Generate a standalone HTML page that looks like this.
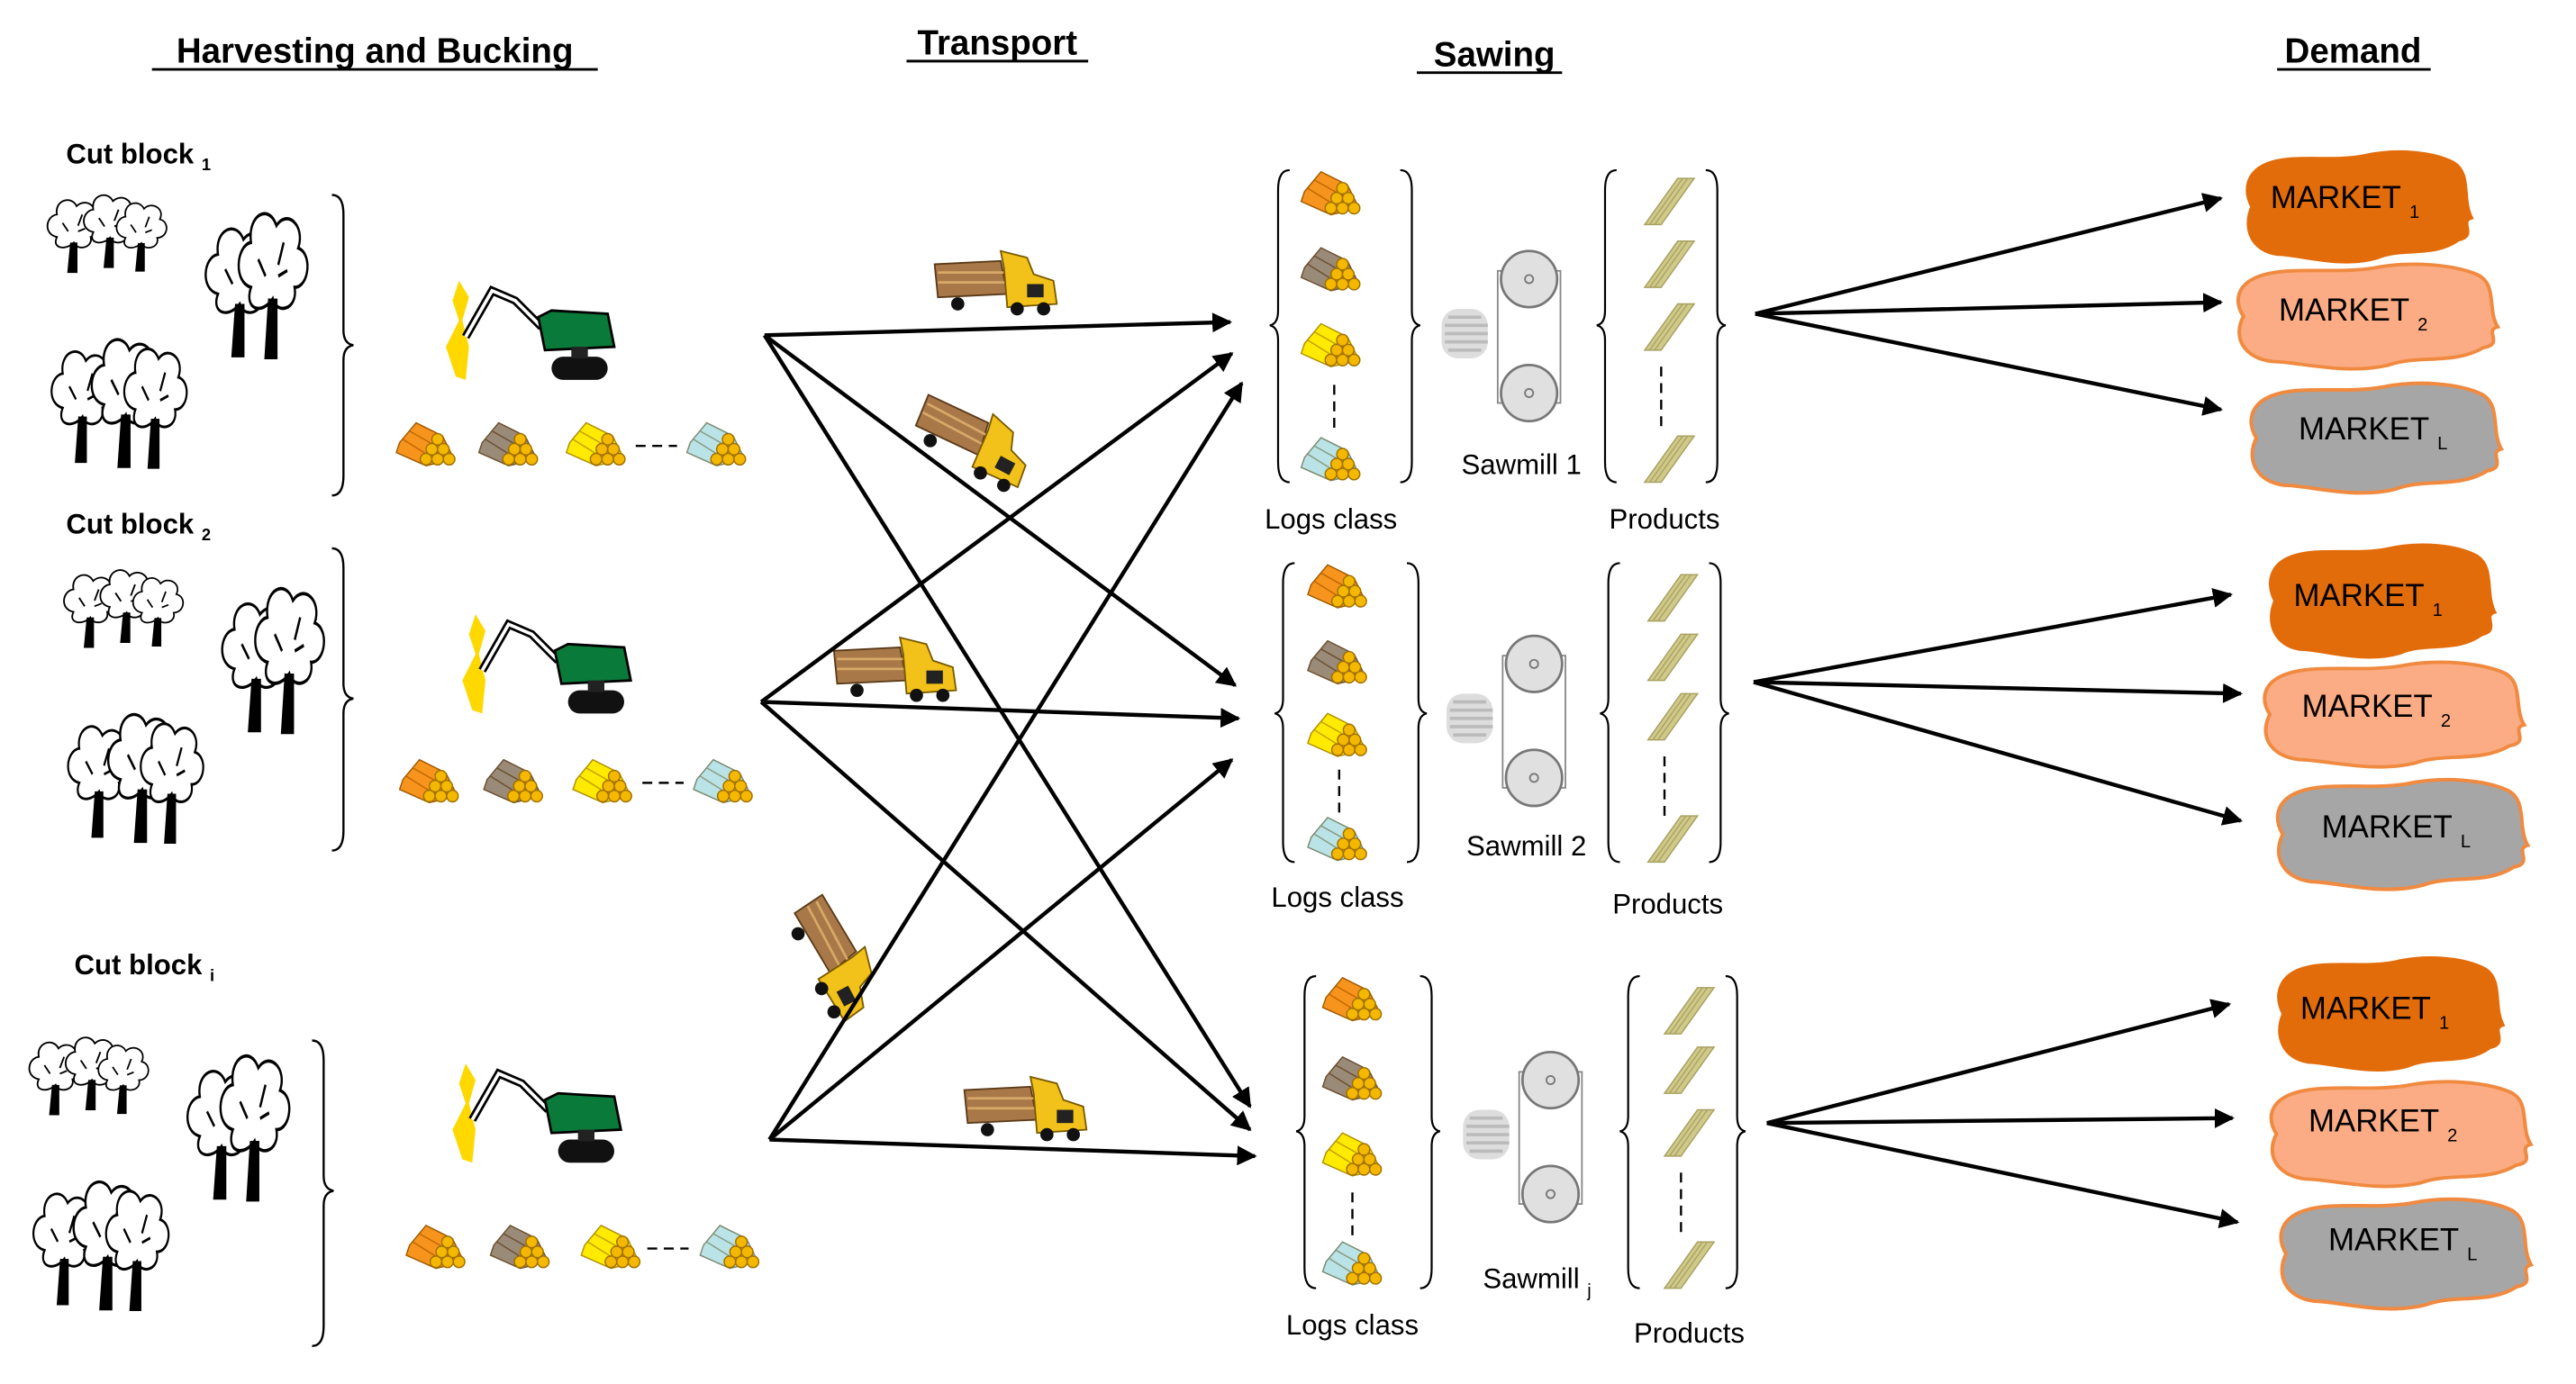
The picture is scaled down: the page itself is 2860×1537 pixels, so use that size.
<!DOCTYPE html>
<html><head><meta charset="utf-8">
<style>
html,body{margin:0;padding:0;background:#fff;}
svg{display:block;}
text{font-family:"Liberation Sans",Arial,sans-serif;}
</style></head>
<body>
<svg width="2860" height="1537" viewBox="0 0 1560 838" preserveAspectRatio="none" xmlns="http://www.w3.org/2000/svg">
<defs>
<marker id="ah" viewBox="0 0 10 10" refX="9" refY="5" markerWidth="5" markerHeight="5" orient="auto" markerUnits="strokeWidth">
<path d="M0,0 L10,5 L0,10 z" fill="#000"/></marker>

<g id="pileBase">
<circle cx="20" cy="22" r="3.5" fill="#f5b800" stroke="#a07000" stroke-width="0.8"/>
<circle cx="27" cy="22" r="3.5" fill="#f5b800" stroke="#a07000" stroke-width="0.8"/>
<circle cx="34" cy="22" r="3.5" fill="#f5b800" stroke="#a07000" stroke-width="0.8"/>
<circle cx="23.5" cy="16" r="3.5" fill="#f5b800" stroke="#a07000" stroke-width="0.8"/>
<circle cx="30.5" cy="16" r="3.5" fill="#f5b800" stroke="#a07000" stroke-width="0.8"/>
<circle cx="27" cy="10" r="3.5" fill="#f5b800" stroke="#a07000" stroke-width="0.8"/>
</g>
<g id="logO"><path d="M4,12 L14,0 L30,8 L37,22 L20,26 L2,18 z" fill="#f7941d" stroke="#a05a00" stroke-width="0.8"/><path d="M6,10 L22,20 M10,5 L26,14" stroke="#c06800" stroke-width="0.8"/><use href="#pileBase"/></g>
<g id="logB"><path d="M4,12 L14,0 L30,8 L37,22 L20,26 L2,18 z" fill="#9a8a78" stroke="#6b5030" stroke-width="0.8"/><path d="M6,10 L22,20 M10,5 L26,14" stroke="#6b5030" stroke-width="0.8"/><use href="#pileBase"/></g>
<g id="logY"><path d="M4,12 L14,0 L30,8 L37,22 L20,26 L2,18 z" fill="#ffea00" stroke="#b09000" stroke-width="0.8"/><path d="M6,10 L22,20 M10,5 L26,14" stroke="#c0a000" stroke-width="0.8"/><use href="#pileBase"/></g>
<g id="logC"><path d="M4,12 L14,0 L30,8 L37,22 L20,26 L2,18 z" fill="#b9e3e6" stroke="#7a8a70" stroke-width="0.8"/><path d="M6,10 L22,20 M10,5 L26,14" stroke="#8a9a80" stroke-width="0.8"/><use href="#pileBase"/></g>

<g id="prod"><path d="M0,28 L20,0 L30,0 L10,28 z" fill="#cfc98a" stroke="#a8a060" stroke-width="0.8"/><path d="M3,28 L23,0 M6,28 L26,0" stroke="#a8a060" stroke-width="0.7"/></g>

<g id="mill">
<rect x="-2" y="35" width="28" height="30" rx="10" fill="#ddd"/>
<path d="M2,40h20M0,45h26M0,50h26M0,55h26M2,60h20" stroke="#bbb" stroke-width="2"/>
<rect x="32" y="12" width="38" height="80" fill="#fff" stroke="#888" stroke-width="1"/>
<circle cx="51" cy="17" r="17" fill="#e0e0e0" stroke="#777" stroke-width="1.5"/><circle cx="51" cy="17" r="2.5" fill="none" stroke="#777"/>
<circle cx="51" cy="86" r="17" fill="#e0e0e0" stroke="#777" stroke-width="1.5"/><circle cx="51" cy="86" r="2.5" fill="none" stroke="#777"/>
</g>

<g id="tree" fill="#fff" stroke="#000" stroke-width="1.2">
<path d="M10,30 C0,28 2,15 10,14 C8,4 20,0 24,8 C30,2 40,8 36,16 C44,18 42,30 34,30 C36,38 24,40 22,34 C16,40 6,38 10,30z"/>
<path d="M20,34 L18,55 L24,55 L24,34" fill="#000"/>
<path d="M14,20 l4,6 M28,14 l-3,8 M30,24 l-5,2" fill="none"/>
</g>
<g id="forest">
<use href="#tree" transform="translate(0,0) scale(0.85)"/>
<use href="#tree" transform="translate(22,-3) scale(0.85)"/>
<use href="#tree" transform="translate(42,2) scale(0.8)"/>
<use href="#tree" transform="translate(95,15) scale(1.1,1.5)"/>
<use href="#tree" transform="translate(115,5) scale(1.1,1.7)"/>
<use href="#tree" transform="translate(2,90) scale(1,1.3)"/>
<use href="#tree" transform="translate(26,82) scale(1.1,1.5)"/>
<use href="#tree" transform="translate(46,88) scale(1,1.4)"/>
</g>

<g id="harv">
<path d="M10,0 L6,12 L10,24 L2,40 L8,58 L14,60 L16,40 L12,24 L16,10 z" fill="#ffd800"/>
<path d="M14,34 L30,6 L44,12 L60,28" fill="none" stroke="#000" stroke-width="5"/>
<path d="M14,34 L30,6 L44,12 L60,28" fill="none" stroke="#fff" stroke-width="2"/>
<path d="M58,22 L66,18 L100,20 L104,40 L62,42 z" fill="#0a7a3a" stroke="#000" stroke-width="1.5"/>
<rect x="66" y="46" width="34" height="14" rx="7" fill="#111"/>
<rect x="78" y="40" width="10" height="7" fill="#222"/>
</g>

<g id="truck">
<path d="M0,8 L40,6 L44,26 L2,28 z" fill="#a87848" stroke="#5a3a18" stroke-width="1"/>
<path d="M2,13h40M2,19h41" stroke="#d8a868" stroke-width="1.5"/>
<path d="M40,0 L56,4 L60,14 L72,18 L74,32 L44,34 L42,10 z" fill="#f2c21a" stroke="#7a5a00" stroke-width="1"/>
<rect x="56" y="20" width="10" height="8" fill="#222"/>
<circle cx="14" cy="32" r="4" fill="#111"/><circle cx="50" cy="35" r="4" fill="#111"/><circle cx="66" cy="35" r="4" fill="#111"/>
</g>

<path id="blob" d="M12,10 C28,2 55,8 78,4 C98,0 122,2 135,8 C146,14 140,28 146,38 C138,40 150,48 138,50 C122,60 102,54 86,60 C62,66 36,58 22,58 C6,56 0,44 6,32 C0,22 4,14 12,10z"/>
</defs>

<!-- Titles -->
<g font-weight="bold" font-size="21" fill="#000" text-anchor="middle">
<text x="227" y="38">Harvesting and Bucking</text>
<text x="604" y="33">Transport</text>
<text x="905" y="40">Sawing</text>
<text x="1425" y="38">Demand</text>
</g>
<g stroke="#000" stroke-width="1.6">
<line x1="92" y1="42" x2="362" y2="42"/>
<line x1="549" y1="37" x2="659" y2="37"/>
<line x1="858" y1="44" x2="946" y2="44"/>
<line x1="1379" y1="42" x2="1472" y2="42"/>
</g>

<!-- Cut block labels -->
<g font-weight="bold" font-size="17" fill="#000">
<text x="40" y="99">Cut block <tspan font-size="10" dy="4">1</tspan></text>
<text x="40" y="323">Cut block <tspan font-size="10" dy="4">2</tspan></text>
<text x="45" y="590">Cut block <tspan font-size="10" dy="4">i</tspan></text>
</g>

<!-- forests -->
<use href="#forest" transform="translate(26,118)"/>
<use href="#forest" transform="translate(36,345)"/>
<use href="#forest" transform="translate(15,628)"/>

<!-- braces -->
<g fill="none" stroke="#000" stroke-width="1.3">
<path d="M201,118 Q208,118 208,130 L208,200 Q208,208 214,209 Q208,210 208,218 L208,288 Q208,300 201,300"/>
<path d="M201,332 Q208,332 208,344 L208,414 Q208,422 214,423 Q208,424 208,432 L208,503 Q208,515 201,515"/>
<path d="M189,630 Q196,630 196,642 L196,712 Q196,720 202,721 Q196,722 196,730 L196,803 Q196,815 189,815"/>
</g>

<!-- harvesters -->
<use href="#harv" transform="translate(268,170)"/>
<use href="#harv" transform="translate(278,372)"/>
<use href="#harv" transform="translate(272,644)"/>

<!-- log rows -->
<g>
<use href="#logO" transform="translate(238,256)"/><use href="#logB" transform="translate(288,256)"/><use href="#logY" transform="translate(341,256)"/><use href="#logC" transform="translate(414,256)"/>
<use href="#logO" transform="translate(240,460)"/><use href="#logB" transform="translate(291,460)"/><use href="#logY" transform="translate(345,460)"/><use href="#logC" transform="translate(418,460)"/>
<use href="#logO" transform="translate(244,742)"/><use href="#logB" transform="translate(295,742)"/><use href="#logY" transform="translate(350,742)"/><use href="#logC" transform="translate(422,742)"/>
</g>
<g stroke="#000" stroke-width="1.3" stroke-dasharray="6,4">
<line x1="385" y1="270" x2="410" y2="270"/>
<line x1="389" y1="474" x2="414" y2="474"/>
<line x1="392" y1="756" x2="417" y2="756"/>
</g>

<!-- trucks -->
<use href="#truck" transform="translate(566,152)"/>
<use href="#truck" transform="translate(566,232) rotate(28)"/>
<use href="#truck" transform="translate(505,386)"/>
<use href="#truck" transform="translate(505,538) rotate(62)"/>
<use href="#truck" transform="translate(584,652)"/>

<!-- transport arrows -->
<g stroke="#000" stroke-width="2.4" fill="none" marker-end="url(#ah)">
<line x1="463" y1="203" x2="745" y2="195"/>
<line x1="463" y1="203" x2="748" y2="415"/>
<line x1="463" y1="203" x2="757" y2="670"/>
<line x1="461" y1="425" x2="746" y2="214"/>
<line x1="461" y1="425" x2="750" y2="435"/>
<line x1="461" y1="425" x2="757" y2="684"/>
<line x1="466" y1="690" x2="752" y2="232"/>
<line x1="466" y1="690" x2="746" y2="460"/>
<line x1="466" y1="690" x2="760" y2="700"/>
</g>

<!-- Sawmill groups -->
<g fill="none" stroke="#000" stroke-width="1.2">
<!-- mill1 -->
<path d="M781,103 Q774,103 774,115 L774,188 Q774,196 769,197 Q774,198 774,206 L774,280 Q774,292 781,292"/>
<path d="M848,103 Q855,103 855,115 L855,188 Q855,196 860,197 Q855,198 855,206 L855,280 Q855,292 848,292"/>
<path d="M979,103 Q972,103 972,115 L972,188 Q972,196 967,197 Q972,198 972,206 L972,280 Q972,292 979,292"/>
<path d="M1033,103 Q1040,103 1040,115 L1040,188 Q1040,196 1045,197 Q1040,198 1040,206 L1040,280 Q1040,292 1033,292"/>
<!-- mill2 -->
<path d="M784,341 Q777,341 777,353 L777,423 Q777,431 772,432 Q777,433 777,441 L777,510 Q777,522 784,522"/>
<path d="M852,341 Q859,341 859,353 L859,423 Q859,431 864,432 Q859,433 859,441 L859,510 Q859,522 852,522"/>
<path d="M981,341 Q974,341 974,353 L974,423 Q974,431 969,432 Q974,433 974,441 L974,510 Q974,522 981,522"/>
<path d="M1035,341 Q1042,341 1042,353 L1042,423 Q1042,431 1047,432 Q1042,433 1042,441 L1042,510 Q1042,522 1035,522"/>
<!-- mill3 -->
<path d="M797,591 Q790,591 790,603 L790,676 Q790,684 785,685 Q790,686 790,694 L790,768 Q790,780 797,780"/>
<path d="M860,591 Q867,591 867,603 L867,676 Q867,684 872,685 Q867,686 867,694 L867,768 Q867,780 860,780"/>
<path d="M993,591 Q986,591 986,603 L986,676 Q986,684 981,685 Q986,686 986,694 L986,768 Q986,780 993,780"/>
<path d="M1045,591 Q1052,591 1052,603 L1052,676 Q1052,684 1057,685 Q1052,686 1052,694 L1052,768 Q1052,780 1045,780"/>
</g>
<g stroke="#000" stroke-width="1.3" stroke-dasharray="6,4">
<line x1="808" y1="233" x2="808" y2="262"/><line x1="1006" y1="222" x2="1006" y2="258"/>
<line x1="811" y1="466" x2="811" y2="494"/><line x1="1008" y1="458" x2="1008" y2="494"/>
<line x1="819" y1="722" x2="819" y2="748"/><line x1="1018" y1="710" x2="1018" y2="748"/>
</g>
<g>
<use href="#logO" transform="translate(786,104)"/><use href="#logB" transform="translate(786,150)"/><use href="#logY" transform="translate(786,196)"/><use href="#logC" transform="translate(786,265)"/>
<use href="#logO" transform="translate(790,342)"/><use href="#logB" transform="translate(790,388)"/><use href="#logY" transform="translate(790,432)"/><use href="#logC" transform="translate(790,495)"/>
<use href="#logO" transform="translate(799,592)"/><use href="#logB" transform="translate(799,640)"/><use href="#logY" transform="translate(799,686)"/><use href="#logC" transform="translate(799,752)"/>
<use href="#prod" transform="translate(996,108)"/><use href="#prod" transform="translate(996,146)"/><use href="#prod" transform="translate(996,184)"/><use href="#prod" transform="translate(996,264)"/>
<use href="#prod" transform="translate(998,348)"/><use href="#prod" transform="translate(998,384)"/><use href="#prod" transform="translate(998,420)"/><use href="#prod" transform="translate(998,494)"/>
<use href="#prod" transform="translate(1008,598)"/><use href="#prod" transform="translate(1008,634)"/><use href="#prod" transform="translate(1008,672)"/><use href="#prod" transform="translate(1008,752)"/>
<use href="#mill" transform="translate(875,152)"/>
<use href="#mill" transform="translate(878,385)"/>
<use href="#mill" transform="translate(888,637)"/>
</g>
<g font-size="17" fill="#000">
<text x="885" y="287">Sawmill 1</text>
<text x="888" y="518">Sawmill 2</text>
<text x="898" y="780">Sawmill <tspan font-size="11" dy="5">j</tspan></text>
<text x="806" y="320" text-anchor="middle">Logs class</text>
<text x="1008" y="320" text-anchor="middle">Products</text>
<text x="810" y="549" text-anchor="middle">Logs class</text>
<text x="1010" y="553" text-anchor="middle">Products</text>
<text x="819" y="808" text-anchor="middle">Logs class</text>
<text x="1023" y="813" text-anchor="middle">Products</text>
</g>

<!-- market arrows -->
<g stroke="#000" stroke-width="2.4" fill="none" marker-end="url(#ah)">
<line x1="1063" y1="190" x2="1345" y2="120"/>
<line x1="1063" y1="190" x2="1345" y2="183"/>
<line x1="1063" y1="190" x2="1345" y2="248"/>
<line x1="1062" y1="413" x2="1351" y2="360"/>
<line x1="1062" y1="413" x2="1357" y2="420"/>
<line x1="1062" y1="413" x2="1357" y2="497"/>
<line x1="1070" y1="680" x2="1350" y2="608"/>
<line x1="1070" y1="680" x2="1352" y2="677"/>
<line x1="1070" y1="680" x2="1355" y2="740"/>
</g>

<!-- markets -->
<g stroke="#f08a40" stroke-width="2">
<use href="#blob" transform="translate(1358,90) scale(0.95,1.1)" fill="#e36c0a" stroke="#e36c0a"/>
<use href="#blob" transform="translate(1352,158) scale(1.1,1.05)" fill="#fbac84"/>
<use href="#blob" transform="translate(1360,230) scale(1.06,1.1)" fill="#a6a6a6"/>
<use href="#blob" transform="translate(1372,328) scale(0.95,1.12)" fill="#e36c0a" stroke="#e36c0a"/>
<use href="#blob" transform="translate(1368,399) scale(1.1,1.05)" fill="#fbac84"/>
<use href="#blob" transform="translate(1376,470) scale(1.06,1.1)" fill="#a6a6a6"/>
<use href="#blob" transform="translate(1377,578) scale(0.95,1.12)" fill="#e36c0a" stroke="#e36c0a"/>
<use href="#blob" transform="translate(1372,653) scale(1.1,1.05)" fill="#fbac84"/>
<use href="#blob" transform="translate(1378,724) scale(1.06,1.1)" fill="#a6a6a6"/>
</g>
<g font-size="19" fill="#000">
<text x="1375" y="126">MARKET <tspan font-size="11" dy="6">1</tspan></text>
<text x="1380" y="194">MARKET <tspan font-size="11" dy="6">2</tspan></text>
<text x="1392" y="266">MARKET <tspan font-size="11" dy="6">L</tspan></text>
<text x="1389" y="367">MARKET <tspan font-size="11" dy="6">1</tspan></text>
<text x="1394" y="434">MARKET <tspan font-size="11" dy="6">2</tspan></text>
<text x="1406" y="507">MARKET <tspan font-size="11" dy="6">L</tspan></text>
<text x="1393" y="617">MARKET <tspan font-size="11" dy="6">1</tspan></text>
<text x="1398" y="685">MARKET <tspan font-size="11" dy="6">2</tspan></text>
<text x="1410" y="757">MARKET <tspan font-size="11" dy="6">L</tspan></text>
</g>
</svg>
</body></html>
